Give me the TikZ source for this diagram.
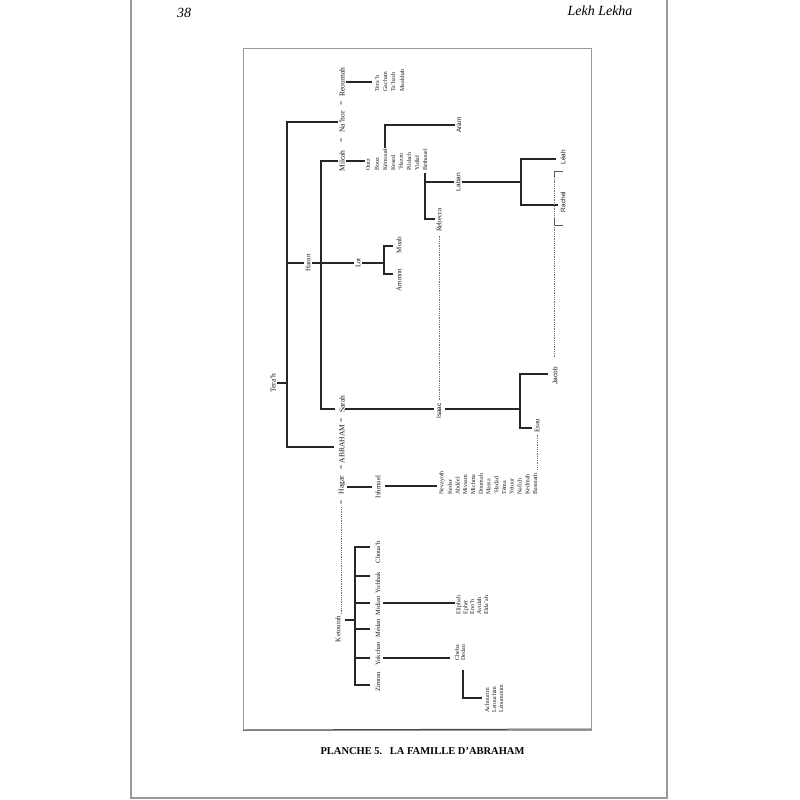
\documentclass[tikz,border=0pt]{standalone}
\usepackage{fontspec}
\setmainfont{Liberation Serif}
\setsansfont{Liberation Sans}
\begin{document}
\begin{tikzpicture}[x=1pt,y=-1pt,
  br/.style={line width=2.7pt, draw=black!85, line join=miter},
  dotl/.style={draw=black!55, line width=0.8pt, dash pattern=on 1pt off 0.8pt},
  thinl/.style={draw=black!65, line width=0.7pt},
  big/.style={font=\fontsize{7.5}{8}\selectfont, rotate=90, inner sep=1.5pt, text=black!90},
  nm/.style={font=\fontsize{7}{8}\selectfont, rotate=90, inner sep=1.5pt, text=black!90},
  nms/.style={font=\fontsize{6.5}{8}\selectfont, rotate=90, inner sep=1.5pt, text=black!90},
  sm/.style={font=\fontsize{6}{7}\selectfont, rotate=90, inner sep=0.3pt, anchor=west, text=black!90},
  sn/.style={font=\sffamily\fontsize{6.5}{7}\selectfont, rotate=90, inner sep=1.5pt, text=black!90}]
\useasboundingbox[fill=white] (0,0) rectangle (800,800);

% page border
\draw[gray!80, line width=1.2pt] (131,0) -- (131,798) -- (667,798) -- (667,0);

% header
\node[font=\itshape\fontsize{14}{16}\selectfont, anchor=base] (pg) at (184,18) {38};
\node[font=\itshape\fontsize{14}{16}\selectfont, anchor=base east] (hd) at (636,16) {Lekh Lekha};

% frame
\draw[gray!80, line width=0.8pt] (243,48) rectangle (591,730);
\draw[gray!60!black, line width=1pt] (243,730) -- (591,729);

% caption
\node[font=\bfseries\fontsize{10.5}{12}\selectfont, anchor=base west] (cap) at (317,754) {PLANCHE 5.\hspace{7.5pt}LA FAMILLE D’ABRAHAM};

% main column
\node[big] (terah) at (273,383) {Tera'h};
\node[big] (reoumah) at (342,82) {Reoumah};
\node[big] (eq1) at (342,103) {=};
\node[big] (nahor) at (342,122) {Na'hor};
\node[big] (eq2) at (342,140) {=};
\node[big] (milcah) at (342,161) {Milcah};
\node[nm] (haran) at (308,263) {Haran};
\node[nm] (lot) at (358,263) {Lot};
\node[nm] (moab) at (399,245) {Moab};
\node[nm] (ammon) at (399,280) {Ammon};
\node[big] (sarah) at (342,404) {Sarah};
\node[big] (eq3) at (342,420) {=};
\node[big] (abraham) at (342,444) {ABRAHAM};
\node[big] (eq4) at (342,467) {=};
\node[big] (hagar) at (342,485) {Hagar};
\node[big] (eq5) at (342,502) {=};
\node[nm] (ketourah) at (338,629) {Ketourah};
\node[nm] (ishmael) at (378,487) {Ishmael};
\node[sn] (isaac) at (439,411) {Isaac};
\node[sn] (laban) at (458,182) {Laban};
\node[nm] (rebecca) at (439,220) {Rebecca};
\node[sn] (aram) at (459,125) {Aram};
\node[sn] (leah) at (563,157) {Léah};
\node[sn] (rachel) at (563,202) {Rachel};
\node[sn] (jacob) at (555,376) {Jacob};
\node[nm] (esau) at (537,426) {Esau};
\coordinate (hk) at (341,507);

% Terah's sons
\draw[br] (terah.south) -- (287,383);
\draw[br] (nahor.north) -- (287,122) -- (287,447) -- (334,447);
\draw[br] (287,263) -- (haran.north);
\draw[br] (haran.south) -- (lot.north);
\draw[br] (lot.south) -- (384,263);
\draw[br] (393,246) -- (384,246) -- (384,274) -- (393,274);
\draw[br] (milcah.north) -- (321,161) -- (321,409) -- (335,409);

% Reoumah's children
\draw[br] (reoumah.south) -- (372,82);
\foreach \x/\t [count=\i] in {377/Tera'h, 385/Gacham, 393/Ta'hach, 402/Maakhah}
  \node[sm] (rc\i) at (\x,92) {\t};

% Milcah's children
\draw[br] (milcah.south) -- (365,161);
\foreach \x/\t [count=\i] in {368/Outz, 377/Bouz, 385/Kémouel, 393/Kesed, 401/'Hazzo, 409/Pildach, 417/Yidlaf, 425/Bethouel}
  \node[sm] (mc\i) at (\x,171) {\t};
\draw[br] (mc3.east) -- (385,125) -- (aram.north);
\draw[br] (425,173) -- (425,219) -- (435,219);
\draw[br] (425,182) -- (laban.north);

% Laban's daughters
\draw[br] (laban.south) -- (521,182);
\draw[br] (556,159) -- (521,159) -- (521,205) -- (558,205);
\draw[thinl] (563,171) -- (554,171) -- (554,177);
\draw[dotl] (554,177) -- (554,219);
\draw[thinl] (554,219) -- (554,225) -- (563,225);
\draw[dotl] (554,225) -- (554,358);

% Rebecca - Isaac
\draw[dotl] ([yshift=-2pt]rebecca.west) -- ([yshift=2pt]isaac.east);
\draw[br] (345,409) -- (434,409);
\draw[br] (445,409) -- (520,409);
\draw[br] (548,374) -- (520,374) -- (520,428) -- (532,428);
\draw[dotl] (esau.west) -- (537,470);

% Hagar - Ishmael
\draw[br] (347,487) -- (372,487);
\draw[br] (385,486) -- (437,486);
\foreach \t [count=\i] in {Nevayoth, Kedar, Abdéel, Mivsam, Michma, Doumah, Massa, 'Hadad, Téma, Yetour, Nafich, Kedmah, Basmath}
  \node[sm] (ic\i) at ({434.25+7.75*\i},495) {\t};

% Ketourah
\draw[dotl] (hk) -- (hk |- ketourah.east);
\draw[br] (345,620) -- (355,620);
\draw[br] (370,547) -- (355,547) -- (355,685) -- (370,685);
\foreach \y in {576,603,629,658} \draw[br] (355,\y) -- (370,\y);
\node[nms] (chouah) at (378,552) {Choua'h};
\node[nms] (yichbak) at (378,583) {Yichbak};
\node[nms] (midian) at (378,606) {Midian};
\node[nms] (medan) at (378,628) {Médan};
\node[nms] (yokchan) at (378,654) {Yokchan};
\node[nms] (zimran) at (378,682) {Zimran};

\draw[br] (383,603) -- (455,603);
\foreach \x/\t [count=\i] in {459/Eliphah, 466/Epher, 472/Eno'h, 479/Avidah, 486/Elda'ah}
  \node[sm] (md\i) at (\x,615) {\t};

\draw[br] (383,658) -- (450,658);
\node[sm] (cheba) at (457,661) {Cheba};
\node[sm] (dedan) at (463,661) {Dedan};
\draw[br] (463,670) -- (463,698) -- (482,698);
\foreach \x/\t [count=\i] in {487/Achourim, 494/Letouchim, 501/Léoummim}
  \node[sm] (dd\i) at (\x,713) {\t};
\end{tikzpicture}
\end{document}
